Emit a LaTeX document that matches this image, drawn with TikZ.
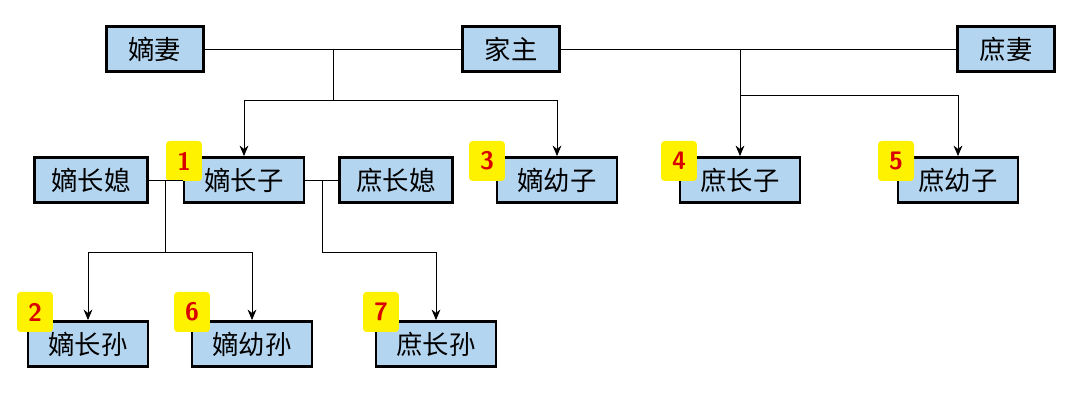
\documentclass[tikz,border=0pt]{standalone}
\usepackage{fontspec}
\newfontfamily\cjk{Noto Sans CJK SC}
\usetikzlibrary{arrows.meta,positioning}
\definecolor{boxblue}{HTML}{B4D5F0}
\definecolor{numyellow}{HTML}{FFF200}
\tikzset{fontscale/.style = {font=\cjk\fontsize{15}{15}\selectfont}}
\tikzstyle{member}=[rectangle, draw=black, line width=1.6pt, fill=boxblue, minimum height=0.9cm, fontscale]
\tikzstyle{rank}=[rectangle, fill=numyellow, rounded corners=2pt, minimum width=0.72cm, minimum height=0.8cm, text=red!85!black, font=\sffamily\bfseries\Large]
\begin{document}
\begin{tikzpicture}[x=0.02cm, y=-0.02cm, link/.style={thin}, child/.style={thin,-{Stealth[length=6pt,width=5pt]}}]
\useasboundingbox (0,0) rectangle (1080,401);

% parents
\node[member,minimum width=1.95cm] (dq) at (155,49) {嫡妻};
\node[member,minimum width=1.95cm] (jz) at (511,49) {家主};
\node[member,minimum width=1.95cm] (sq) at (1006,49) {庶妻};

% sons and wives
\node[member,minimum width=2.25cm] (dcx) at (91,180) {嫡长媳};
\node[member,minimum width=2.4cm] (dcz) at (244,180) {嫡长子};
\node[member,minimum width=2.25cm] (scx) at (396,180) {庶长媳};
\node[member,minimum width=2.4cm] (dyz) at (557,180) {嫡幼子};
\node[member,minimum width=2.4cm] (scz) at (740,180) {庶长子};
\node[member,minimum width=2.4cm] (syz) at (958,180) {庶幼子};

% grandsons
\node[member,minimum width=2.4cm] (dcs) at (88,344) {嫡长孙};
\node[member,minimum width=2.4cm] (dys) at (252,344) {嫡幼孙};
\node[member,minimum width=2.4cm] (scs) at (436,344) {庶长孙};

% order of succession
\node[rank] (r1) at (184,161) {1};
\node[rank] (r3) at (487,161) {3};
\node[rank] (r4) at (679,161) {4};
\node[rank] (r5) at (896,161) {5};
\node[rank] (r2) at (35,312) {2};
\node[rank] (r6) at (192,312) {6};
\node[rank] (r7) at (381,312) {7};

% marriage links
\coordinate (m1) at (333,49);
\coordinate (m2) at (740,49);
\coordinate (m3) at (165,180);
\coordinate (m4) at (322,180);
\path[link] (dq) edge (jz);
\path[link] (jz) edge (sq);
\path[link] (dcx) edge (dcz);
\path[link] (dcz) edge (scx);

% descent
\coordinate (b1) at (333,100);
\coordinate (b2) at (740,95);
\coordinate (b3) at (165,252);
\coordinate (b4) at (322,252);
\draw[link] (m1) -- (b1);
\draw[child] (b1) -| (dcz);
\draw[child] (b1) -| (dyz);
\draw[child] (m2) -- (scz);
\draw[child] (b2) -| (syz);
\draw[link] (m3) -- (b3);
\draw[child] (b3) -| (dcs);
\draw[child] (b3) -| (dys);
\draw[link] (m4) -- (b4);
\draw[child] (b4) -| (scs);
\end{tikzpicture}
\end{document}
